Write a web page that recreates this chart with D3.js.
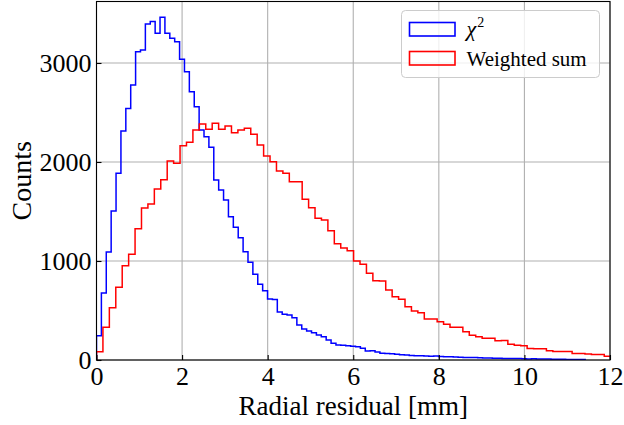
<!DOCTYPE html>
<html>
<head>
<meta charset="utf-8">
<script src="https://cdn.jsdelivr.net/npm/d3@7/dist/d3.min.js"></script>
<style>
  body { margin: 0; background: #fff; }
  svg text { font-family: "Liberation Serif", "Times New Roman", serif; fill: #000; }
</style>
</head>
<body>
<svg id="chart" width="624" height="425"></svg>
<script>
// histogram counts, one value per bin
var chi2Counts = [245, 677, 1090, 1505, 1885, 2313, 2540, 2778, 3114, 3131,
  3394, 3418, 3300, 3462, 3300, 3249, 3215, 3037, 2912, 2710,
  2559, 2323, 2256, 2150, 1818, 1717, 1616, 1448, 1340, 1235,
  1094, 987, 866, 765, 700, 616, 610, 485, 461, 455,
  428, 354, 313, 293, 276, 253, 236, 202, 168, 152,
  148, 145, 140, 135, 118, 90, 94, 80, 68, 66,
  64, 58, 54, 50, 46, 44, 42, 40, 38, 40,
  35, 34, 32, 30, 28, 26, 25, 24, 22, 20,
  21, 18, 17, 16, 15, 14, 14, 12, 11, 12,
  10, 9, 9, 8, 7, 8, 6, 5, 5, 4];
var chi2Start = 0, chi2BinWidth = 0.1142;

var wsumCounts = [84, 330, 528, 734, 953, 1067, 1326, 1535, 1576, 1727,
  1820, 2010, 1987, 2165, 2199, 2323, 2384, 2330, 2391, 2330,
  2364, 2296, 2323, 2340, 2280, 2172, 2061, 2003, 1909, 1886,
  1801, 1801, 1623, 1538, 1431, 1414, 1305, 1175, 1130, 1104,
  1000, 966, 875, 801, 798, 707, 640, 613, 539, 495,
  478, 414, 414, 387, 360, 330, 330, 286, 250, 234,
  219, 219, 195, 198, 160, 150, 145, 116, 114, 114,
  93, 87, 87, 86, 66, 66, 60, 56, 55, 37];
var wsumStart = 0, wsumBinWidth = 0.1502;

var xTicks = [0, 2, 4, 6, 8, 10, 12];
var yTicks = [0, 1000, 2000, 3000];
var xDomain = [0, 12], yDomain = [0, 3621];

var series = [
  {name: "chi2", counts: chi2Counts, start: chi2Start, bw: chi2BinWidth, color: "#0000ff"},
  {name: "wsum", counts: wsumCounts, start: wsumStart, bw: wsumBinWidth, color: "#ff0000"}
];

var FONT = "'Liberation Serif', 'Times New Roman', serif";
var W = 624, H = 425;
var margin = {top: 1.5, right: 14, bottom: 65, left: 96.5};
var width = W - margin.left - margin.right,
    height = H - margin.top - margin.bottom;

var svg = d3.select("#chart");

var x = d3.scaleLinear().domain(xDomain).range([margin.left, margin.left + width]);
var y = d3.scaleLinear().domain(yDomain).range([margin.top + height, margin.top]);

svg.append("defs").append("clipPath").attr("id", "plotclip")
  .append("rect")
  .attr("x", margin.left).attr("y", margin.top)
  .attr("width", width).attr("height", height);

// grid
var grid = svg.append("g").attr("class", "grid");
grid.selectAll("line.vx").data(xTicks).enter().append("line")
  .attr("x1", function(d){ return x(d); }).attr("x2", function(d){ return x(d); })
  .attr("y1", margin.top).attr("y2", margin.top + height)
  .attr("stroke", "#b0b0b0").attr("stroke-width", 1.1);
grid.selectAll("line.hy").data(yTicks).enter().append("line")
  .attr("y1", function(d){ return y(d); }).attr("y2", function(d){ return y(d); })
  .attr("x1", margin.left).attr("x2", margin.left + width)
  .attr("stroke", "#b0b0b0").attr("stroke-width", 1.1);

// step outlines like histtype='step'
function stepPoints(s) {
  var pts = [[s.start, 0]];
  s.counts.forEach(function(c, i){ pts.push([s.start + i * s.bw, c]); });
  var end = s.start + s.counts.length * s.bw;
  pts.push([end, s.counts[s.counts.length - 1]]);
  pts.push([end, 0]);
  return pts;
}

var line = d3.line()
  .x(function(d){ return x(d[0]); })
  .y(function(d){ return y(d[1]); })
  .curve(d3.curveStepAfter);

svg.append("g").attr("clip-path", "url(#plotclip)")
  .selectAll("path").data(series).enter().append("path")
  .attr("d", function(s){ return line(stepPoints(s)); })
  .attr("fill", "none")
  .attr("stroke", function(s){ return s.color; })
  .attr("stroke-width", 1.5)
  .attr("stroke-linejoin", "miter");

// axes, ticks pointing in
var xAxis = d3.axisBottom(x).tickValues(xTicks).tickFormat(d3.format("d"))
  .tickSizeInner(-5).tickSizeOuter(0).tickPadding(7);
var yAxis = d3.axisLeft(y).tickValues(yTicks).tickFormat(d3.format("d"))
  .tickSizeInner(-5).tickSizeOuter(0).tickPadding(5);

var gx = svg.append("g").attr("transform", "translate(0," + (margin.top + height) + ")").call(xAxis);
var gy = svg.append("g").attr("transform", "translate(" + margin.left + ",0)").call(yAxis);
[gx, gy].forEach(function(g){
  g.attr("font-family", FONT);
  g.select(".domain").remove();
  g.selectAll(".tick line").attr("stroke", "#000").attr("stroke-width", 1.1);
  g.selectAll(".tick text").attr("font-size", 26).attr("font-family", FONT);
});

// frame
svg.append("rect")
  .attr("x", margin.left).attr("y", margin.top)
  .attr("width", width).attr("height", height)
  .attr("fill", "none").attr("stroke", "#000").attr("stroke-width", 1.1);

// axis labels
svg.append("text")
  .attr("x", margin.left + width / 2).attr("y", 415)
  .attr("text-anchor", "middle").attr("font-size", 27).attr("font-family", FONT)
  .text("Radial residual [mm]");
svg.append("text")
  .attr("transform", "translate(31," + (margin.top + height / 2) + ") rotate(-90)")
  .attr("text-anchor", "middle").attr("font-size", 28).attr("font-family", FONT)
  .text("Counts");

// legend
var leg = svg.append("g").attr("transform", "translate(401.5,10.5)");
leg.append("rect")
  .attr("width", 198).attr("height", 67).attr("rx", 4)
  .attr("fill", "#fff").attr("fill-opacity", 0.8)
  .attr("stroke", "#cccccc").attr("stroke-width", 1);

var legItems = leg.selectAll("g.item").data(series).enter().append("g")
  .attr("class", "item")
  .attr("transform", function(d, i){ return "translate(0," + (i * 29) + ")"; });
legItems.append("rect")
  .attr("x", 8).attr("y", 12).attr("width", 45.5).attr("height", 13.5)
  .attr("fill", "none").attr("stroke", function(d){ return d.color; }).attr("stroke-width", 1.6);

var chiText = leg.append("text").attr("x", 65).attr("y", 25).attr("font-size", 22).attr("font-family", FONT);
chiText.append("tspan").attr("font-style", "italic").text("χ");
chiText.append("tspan").attr("font-size", 14).attr("dy", -9).attr("dx", 1).text("2");
leg.append("text").attr("x", 65).attr("y", 55).attr("font-size", 21).attr("font-family", FONT).text("Weighted sum");
</script>
</body>
</html>
